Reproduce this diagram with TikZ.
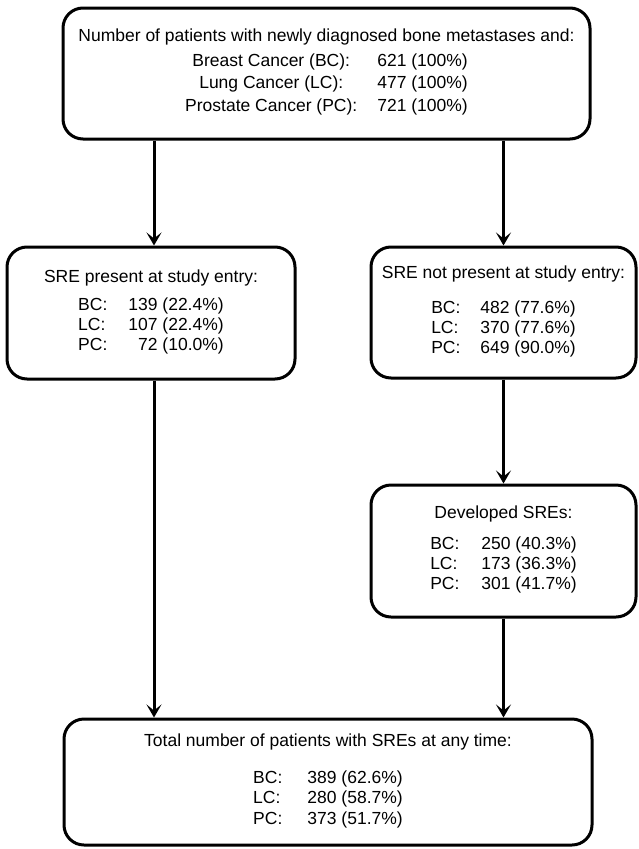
\documentclass[tikz,border=0pt]{standalone}
\usepackage{fontspec}
\setmainfont{Liberation Sans}
\usetikzlibrary{arrows.meta}
\tikzset{
  flowbox/.style={draw, line width=3pt, rounded corners=20pt, inner sep=0pt,
    font=\fontsize{17.5}{20}\selectfont, align=center},
  arr/.style={line width=3pt, -{Stealth[length=13pt,width=15pt,inset=6pt]}}
}
\begin{document}
\begin{tikzpicture}[x=1pt,y=-1pt]
\useasboundingbox (0,0) rectangle (639,849);
\node[flowbox, minimum width=527pt, minimum height=131pt,
      font=\fontsize{17.5}{22.5}\selectfont] (top) at (326.5,73.5)
  {Number of patients with newly diagnosed bone metastases and:\\[2.5pt]
   \begin{tabular}[t]{@{}c@{\hspace{20pt}}r@{}}
   Breast Cancer (BC): & 621 (100\%)\\
   Lung Cancer (LC): & 477 (100\%)\\
   Prostate Cancer (PC): & 721 (100\%)
   \end{tabular}};
\node[flowbox, minimum width=288pt, minimum height=132pt] (left) at (151,313)
  {SRE present at study entry:\\[8pt]
   \begin{tabular}[t]{@{}l@{\hspace{21pt}}r@{}}
   BC: & 139 (22.4\%)\\
   LC: & 107 (22.4\%)\\
   PC: & 72 (10.0\%)
   \end{tabular}};
\node[flowbox, minimum width=265pt, minimum height=131pt] (right) at (503.5,312.5)
  {SRE not present at study entry:\\[15pt]
   \begin{tabular}[t]{@{}l@{\hspace{20pt}}r@{}}
   BC: & 482 (77.6\%)\\
   LC: & 370 (77.6\%)\\
   PC: & 649 (90.0\%)
   \end{tabular}};
\node[flowbox, minimum width=265pt, minimum height=132pt] (dev) at (503.5,551)
  {Developed SREs:\\[11pt]
   \begin{tabular}[t]{@{}l@{\hspace{22pt}}r@{}}
   BC: & 250 (40.3\%)\\
   LC: & 173 (36.3\%)\\
   PC: & 301 (41.7\%)
   \end{tabular}};
\node[flowbox, minimum width=528pt, minimum height=126pt,
      font=\fontsize{17.5}{20.5}\selectfont] (total) at (328,782)
  {Total number of patients with SREs at any time:\\[16.5pt]
   \begin{tabular}[t]{@{}l@{\hspace{25pt}}r@{}}
   BC: & 389 (62.6\%)\\
   LC: & 280 (58.7\%)\\
   PC: & 373 (51.7\%)
   \end{tabular}};
\coordinate (cx1) at (154,0);
\draw[arr] (top.south -| cx1) -- (left.north -| cx1);
\draw[arr] (top.south -| right.north) -- (right.north);
\draw[arr] (left.south -| cx1) -- (total.north -| cx1);
\draw[arr] (right.south) -- (dev.north);
\draw[arr] (dev.south) -- (total.north -| dev.south);
\end{tikzpicture}
\end{document}
